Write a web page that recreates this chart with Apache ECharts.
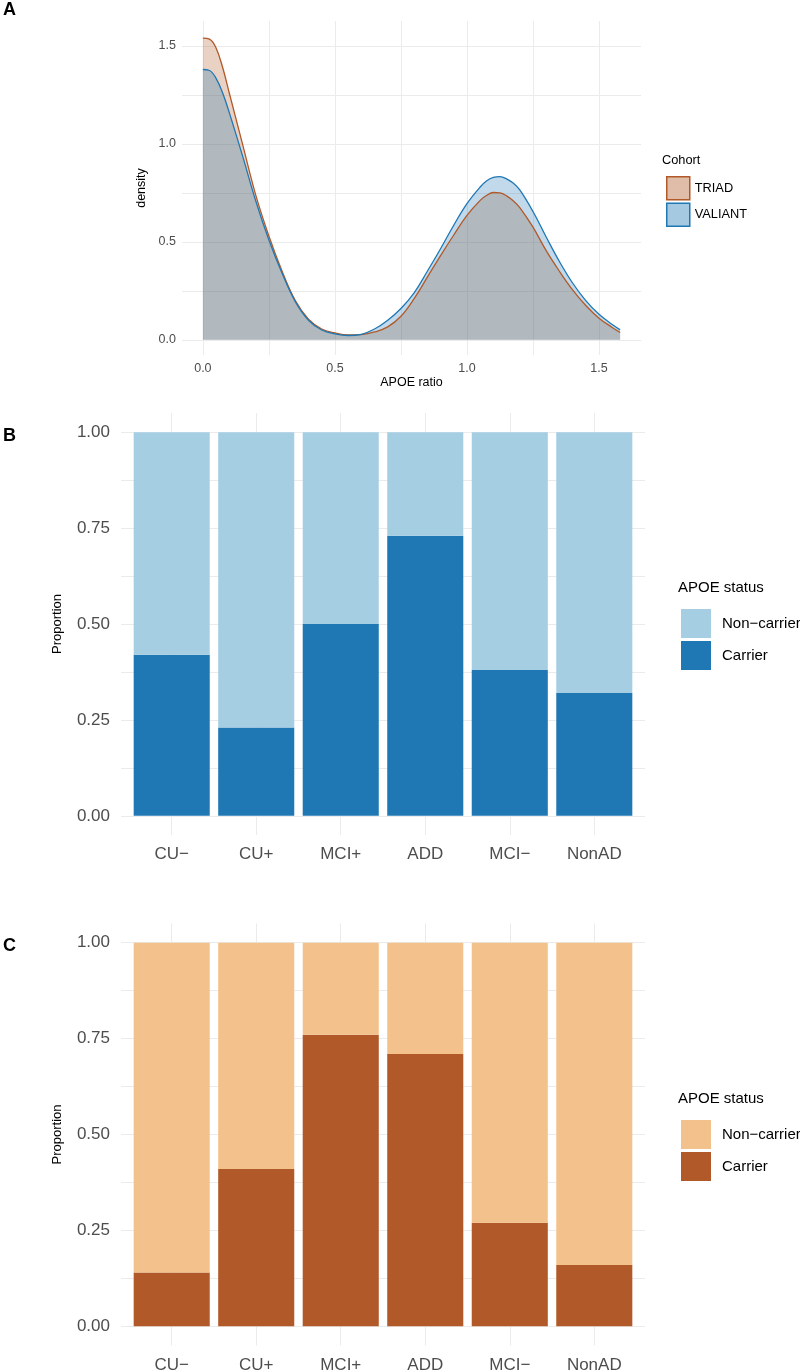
<!DOCTYPE html>
<html lang="en">
<head>
<meta charset="UTF-8">
<title>APOE ratio and APOE status</title>
<script src="https://cdn.jsdelivr.net/npm/echarts@6/dist/echarts.min.js"></script>
<style>
	html, body { margin: 0; padding: 0; background: #fff; }
	#main { width: 800px; height: 1372px; }
</style>
</head>
<body>
<div id="main"></div>
<script>
	// ---- A: density of the APOE ratio per cohort ----
	var ratioX = [0, 0.025, 0.05, 0.075, 0.10, 0.15, 0.20, 0.25, 0.30, 0.35, 0.40, 0.45, 0.50, 0.55, 0.60, 0.65, 0.70, 0.75,
		0.80, 0.85, 0.90, 0.95, 1.00, 1.05, 1.075, 1.10, 1.125, 1.15, 1.175, 1.20, 1.25, 1.30, 1.35, 1.40, 1.45, 1.50, 1.55, 1.58];
	var triadDensity = [1.54, 1.535, 1.49, 1.39, 1.26, 1.00, 0.74, 0.53, 0.35, 0.20, 0.105, 0.055, 0.035, 0.025, 0.027, 0.040, 0.066, 0.12,
		0.21, 0.32, 0.43, 0.535, 0.635, 0.712, 0.738, 0.752, 0.75, 0.735, 0.71, 0.675, 0.575, 0.455, 0.35, 0.255, 0.175, 0.11, 0.063, 0.037];
	var valiantDensity = [1.38, 1.375, 1.335, 1.26, 1.16, 0.94, 0.71, 0.51, 0.34, 0.195, 0.10, 0.05, 0.03, 0.022, 0.028, 0.055, 0.10, 0.16,
		0.24, 0.35, 0.465, 0.585, 0.695, 0.78, 0.812, 0.829, 0.833, 0.822, 0.80, 0.765, 0.655, 0.525, 0.40, 0.29, 0.20, 0.13, 0.078, 0.051];
	var ticksA = [0, 0.5, 1, 1.5];
	var gridLinesA = [0, 0.25, 0.5, 0.75, 1, 1.25, 1.5];

	// ---- B / C: proportion of APOE carriers per group ----
	var groups = ['CU\u2212', 'CU+', 'MCI+', 'ADD', 'MCI\u2212', 'NonAD'];
	var carrierB = [0.42, 0.23, 0.50, 0.73, 0.38, 0.32];
	var carrierC = [0.14, 0.41, 0.76, 0.71, 0.27, 0.16];
	var ticksBC = [0, 0.25, 0.5, 0.75, 1];
	var gridLinesBC = [0, 0.125, 0.25, 0.375, 0.5, 0.625, 0.75, 0.875, 1];
	var groupPos = [1, 2, 3, 4, 5, 6];

	var FONT = 'Liberation Sans, Arial, Helvetica, sans-serif';
	var GRIDCOL = '#ebebeb';

	function pairs(xs, ys) {
		return xs.map(function (x, i) { return [x, ys[i]]; });
	}

	// axis that carries labels and grid lines (ggplot look)
	function valueAxis(o) {
		return {
			type: 'value',
			gridIndex: o.grid,
			min: o.min, max: o.max,
			name: o.name || '',
			nameLocation: 'middle',
			nameGap: o.nameGap,
			nameTextStyle: { color: '#000', fontSize: o.nameSize, fontFamily: FONT },
			axisLine: { show: false, onZero: false },
			axisTick: { show: false, customValues: o.lines },
			axisLabel: {
				customValues: o.labels,
				color: '#4d4d4d',
				fontSize: o.labelSize,
				fontFamily: FONT,
				margin: o.margin,
				formatter: o.fmt
			},
			splitLine: { show: true, lineStyle: { color: GRIDCOL, width: 1 } }
		};
	}

	function barSeries(name, axis, vals, color) {
		return {
			name: name, type: 'bar', stack: 'st' + axis,
			xAxisIndex: axis, yAxisIndex: axis,
			barWidth: '90%',
			data: vals,
			itemStyle: { color: color }
		};
	}

	var nonCarrierB = carrierB.map(function (v) { return 1 - v; });
	var nonCarrierC = carrierC.map(function (v) { return 1 - v; });

	var fmtGroup = function (v) { return groups[Math.round(v) - 1]; };
	var fmt1 = function (v) { return v.toFixed(1); };
	var fmt2 = function (v) { return v.toFixed(2); };

	// bar panels: background grid (labels, lines) + inner grid for the bars
	var unit = 524 / 6.2;
	var barLeft = 121 + 0.1 * unit;
	var barWidthPx = 6 * unit;

	var option = {
		animation: false,
		backgroundColor: '#fff',
		textStyle: { fontFamily: FONT },
		title: [
			{ text: 'A', left: 3, top: 1, padding: 0, textStyle: { fontSize: 18, fontWeight: 'bold', color: '#000' } },
			{ text: 'B', left: 3, top: 427, padding: 0, textStyle: { fontSize: 18, fontWeight: 'bold', color: '#000' } },
			{ text: 'C', left: 3, top: 937, padding: 0, textStyle: { fontSize: 18, fontWeight: 'bold', color: '#000' } },
			{ text: 'Cohort', left: 662, top: 154, padding: 0, textStyle: { fontSize: 12.8, fontWeight: 'normal', color: '#000' } },
			{ text: 'APOE status', left: 678, top: 580, padding: 0, textStyle: { fontSize: 15, fontWeight: 'normal', color: '#000' } },
			{ text: 'APOE status', left: 678, top: 1091, padding: 0, textStyle: { fontSize: 15, fontWeight: 'normal', color: '#000' } }
		],
		legend: [
			{
				orient: 'vertical', left: 666, top: 176, padding: 0,
				itemWidth: 23, itemHeight: 23, itemGap: 2, selectedMode: false,
				textStyle: { fontSize: 12.8, color: '#000' },
				data: [
					{ name: 'TRIAD', icon: 'rect', itemStyle: { color: 'rgba(177,89,40,0.4)', borderColor: '#b15928', borderWidth: 1.5 } },
					{ name: 'VALIANT', icon: 'rect', itemStyle: { color: 'rgba(31,120,180,0.4)', borderColor: '#1f78b4', borderWidth: 1.5 } }
				]
			},
			{
				orient: 'vertical', left: 681, top: 609, padding: 0,
				itemWidth: 30, itemHeight: 29, itemGap: 3, selectedMode: false,
				textStyle: { fontSize: 15, color: '#000', padding: [0, 0, 0, 6] },
				data: [
					{ name: 'Non-carrier', icon: 'rect' },
					{ name: 'Carrier', icon: 'rect' }
				],
				formatter: function (n) { return n.replace('-', '\u2212'); }
			},
			{
				orient: 'vertical', left: 681, top: 1120, padding: 0,
				itemWidth: 30, itemHeight: 29, itemGap: 3, selectedMode: false,
				textStyle: { fontSize: 15, color: '#000', padding: [0, 0, 0, 6] },
				data: [
					{ name: 'Non-carrier (C)', icon: 'rect' },
					{ name: 'Carrier (C)', icon: 'rect' }
				],
				formatter: function (n) { return n.replace(' (C)', '').replace('-', '\u2212'); }
			}
		],
		grid: [
			{ left: 182, top: 21, width: 459, height: 334, outerBoundsMode: 'none' },
			{ left: 121, top: 413, width: 524, height: 422, outerBoundsMode: 'none' },
			{ left: barLeft, top: 413, width: barWidthPx, height: 422, outerBoundsMode: 'none' },
			{ left: 121, top: 923.5, width: 524, height: 422, outerBoundsMode: 'none' },
			{ left: barLeft, top: 923.5, width: barWidthPx, height: 422, outerBoundsMode: 'none' }
		],
		xAxis: [
			valueAxis({ grid: 0, min: -0.079, max: 1.659, lines: gridLinesA, labels: ticksA, fmt: fmt1,
				labelSize: 12.5, margin: 7, name: 'APOE ratio', nameGap: 20, nameSize: 12.5 }),
			valueAxis({ grid: 1, min: 0.4, max: 6.6, lines: groupPos, labels: groupPos, fmt: fmtGroup,
				labelSize: 17, margin: 11 }),
			{ type: 'category', gridIndex: 2, data: groups, show: false },
			valueAxis({ grid: 3, min: 0.4, max: 6.6, lines: groupPos, labels: groupPos, fmt: fmtGroup,
				labelSize: 17, margin: 11 }),
			{ type: 'category', gridIndex: 4, data: groups, show: false }
		],
		yAxis: [
			valueAxis({ grid: 0, min: -0.0775, max: 1.6275, lines: gridLinesA, labels: ticksA, fmt: fmt1,
				labelSize: 12.5, margin: 6, name: 'density', nameGap: 31, nameSize: 12.5 }),
			valueAxis({ grid: 1, min: -0.05, max: 1.05, lines: gridLinesBC, labels: ticksBC, fmt: fmt2,
				labelSize: 17, margin: 11, name: 'Proportion', nameGap: 57, nameSize: 13 }),
			{ type: 'value', gridIndex: 2, min: -0.05, max: 1.05, show: false, splitLine: { show: false } },
			valueAxis({ grid: 3, min: -0.05, max: 1.05, lines: gridLinesBC, labels: ticksBC, fmt: fmt2,
				labelSize: 17, margin: 11, name: 'Proportion', nameGap: 57, nameSize: 13 }),
			{ type: 'value', gridIndex: 4, min: -0.05, max: 1.05, show: false, splitLine: { show: false } }
		],
		series: [
			{
				name: 'TRIAD', type: 'line', xAxisIndex: 0, yAxisIndex: 0,
				data: pairs(ratioX, triadDensity), smooth: 0.4, symbol: 'none',
				lineStyle: { color: '#b15928', width: 1.3 },
				itemStyle: { color: '#b15928' },
				areaStyle: { color: 'rgba(177,89,40,0.4)' }
			},
			{
				name: 'VALIANT', type: 'line', xAxisIndex: 0, yAxisIndex: 0,
				data: pairs(ratioX, valiantDensity), smooth: 0.4, symbol: 'none',
				lineStyle: { color: '#1f78b4', width: 1.3 },
				itemStyle: { color: '#1f78b4' },
				areaStyle: { color: 'rgba(31,120,180,0.4)' }
			},
			barSeries('Carrier', 2, carrierB, '#1f78b4'),
			barSeries('Non-carrier', 2, nonCarrierB, '#a6cee3'),
			barSeries('Carrier (C)', 4, carrierC, '#b15928'),
			barSeries('Non-carrier (C)', 4, nonCarrierC, '#f3c18b')
		]
	};

	var chart = echarts.init(document.getElementById('main'), null, { renderer: 'canvas' });
	chart.setOption(option);
</script>
</body>
</html>
